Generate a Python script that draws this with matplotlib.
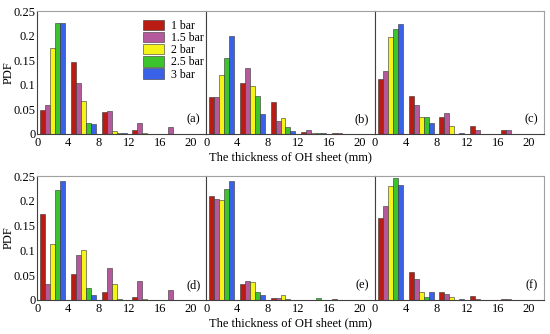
import numpy as np
import matplotlib
matplotlib.use("Agg")
import matplotlib.pyplot as plt

plt.rcParams["font.family"] = ["Liberation Serif", "DejaVu Serif"]

# bin centres (mm) and pressure series
bins = [2, 6, 10, 14, 18]
labels = ["1 bar", "1.5 bar", "2 bar", "2.5 bar", "3 bar"]
colors = ["#b81c12", "#b45a9c", "#f4f418", "#3cc42c", "#3a62e8"]
panel_tags = ["(a)", "(b)", "(c)", "(d)", "(e)", "(f)"]

# PDF values, one list per pressure, values per bin
pdf_a = [
    [0.048, 0.147, 0.045, 0.007, 0.000],
    [0.059, 0.104, 0.046, 0.022, 0.015],
    [0.175, 0.067, 0.005, 0.002, 0.000],
    [0.226, 0.022, 0.001, 0.000, 0.000],
    [0.226, 0.020, 0.001, 0.000, 0.000],
]
pdf_b = [
    [0.075, 0.104, 0.065, 0.004, 0.001],
    [0.075, 0.134, 0.027, 0.009, 0.001],
    [0.119, 0.097, 0.033, 0.001, 0.000],
    [0.155, 0.077, 0.015, 0.001, 0.000],
    [0.199, 0.040, 0.005, 0.002, 0.000],
]
pdf_c = [
    [0.112, 0.077, 0.034, 0.017, 0.007],
    [0.129, 0.059, 0.042, 0.007, 0.009],
    [0.197, 0.034, 0.017, 0.000, 0.000],
    [0.214, 0.034, 0.000, 0.000, 0.000],
    [0.224, 0.022, 0.002, 0.000, 0.000],
]
pdf_d = [
    [0.174, 0.052, 0.016, 0.005, 0.000],
    [0.032, 0.090, 0.064, 0.039, 0.021],
    [0.112, 0.101, 0.032, 0.002, 0.000],
    [0.222, 0.024, 0.002, 0.000, 0.000],
    [0.239, 0.009, 0.000, 0.000, 0.000],
]
pdf_e = [
    [0.209, 0.032, 0.004, 0.000, 0.002],
    [0.204, 0.039, 0.004, 0.000, 0.000],
    [0.202, 0.037, 0.009, 0.000, 0.000],
    [0.224, 0.016, 0.002, 0.004, 0.000],
    [0.239, 0.009, 0.000, 0.000, 0.000],
]
pdf_f = [
    [0.165, 0.057, 0.017, 0.007, 0.002],
    [0.189, 0.042, 0.011, 0.002, 0.002],
    [0.230, 0.015, 0.005, 0.000, 0.000],
    [0.245, 0.005, 0.000, 0.000, 0.000],
    [0.232, 0.015, 0.002, 0.000, 0.000],
]
panels = [pdf_a, pdf_b, pdf_c, pdf_d, pdf_e, pdf_f]

yticks = [0, 0.05, 0.1, 0.15, 0.2, 0.25]
ytick_labels = ["0", "0.05", "0.1", "0.15", "0.2", "0.25"]
xticks = [0, 4, 8, 12, 16, 20]

fig = plt.figure(figsize=(5.5, 3.34), dpi=100)

left, right = 0.068, 0.989
width = (right - left) / 3
rows = [(0.599, 0.967), (0.102, 0.473)]
bar_w = 0.65

for k, data in enumerate(panels):
    r, c = divmod(k, 3)
    bottom, top = rows[r]
    ax = fig.add_axes([left + c * width, bottom, width, top - bottom])
    x = np.array(bins, dtype=float)
    for i, vals in enumerate(data):
        ax.bar(x + (i - 2) * bar_w, vals, width=bar_w, color=colors[i],
               edgecolor="#333333", linewidth=0.4, label=labels[i])
    ax.set_xlim(0, 22)
    ax.set_ylim(0, 0.25)
    ax.set_xticks(xticks)
    ax.tick_params(axis="x", labelsize=9, length=0, pad=2.5)
    ax.tick_params(axis="y", labelsize=9, length=0, pad=1.5)
    if c == 0:
        ax.set_yticks(yticks)
        ax.set_yticklabels(ytick_labels)
        ax.set_ylabel("PDF", fontsize=9, labelpad=-1)
    else:
        ax.set_yticks([])
    for side in ["top", "right"]:
        ax.spines[side].set_color("#a0a0a0")
    for side in ["left", "bottom"]:
        ax.spines[side].set_color("#404040")
    ax.text(0.965, 0.12, panel_tags[k], transform=ax.transAxes,
            ha="right", va="center", fontsize=9)
    if c == 1:
        ax.set_xlabel("The thickness of OH sheet (mm)", fontsize=9, labelpad=1)
    if k == 0:
        ax.legend(loc="upper right", bbox_to_anchor=(1.04, 1.0), frameon=False,
                  fontsize=8.5, handlelength=1.8, handleheight=0.95,
                  handletextpad=0.6, labelspacing=0.0, borderpad=0.25)

fig.savefig("out.png", dpi=100)
